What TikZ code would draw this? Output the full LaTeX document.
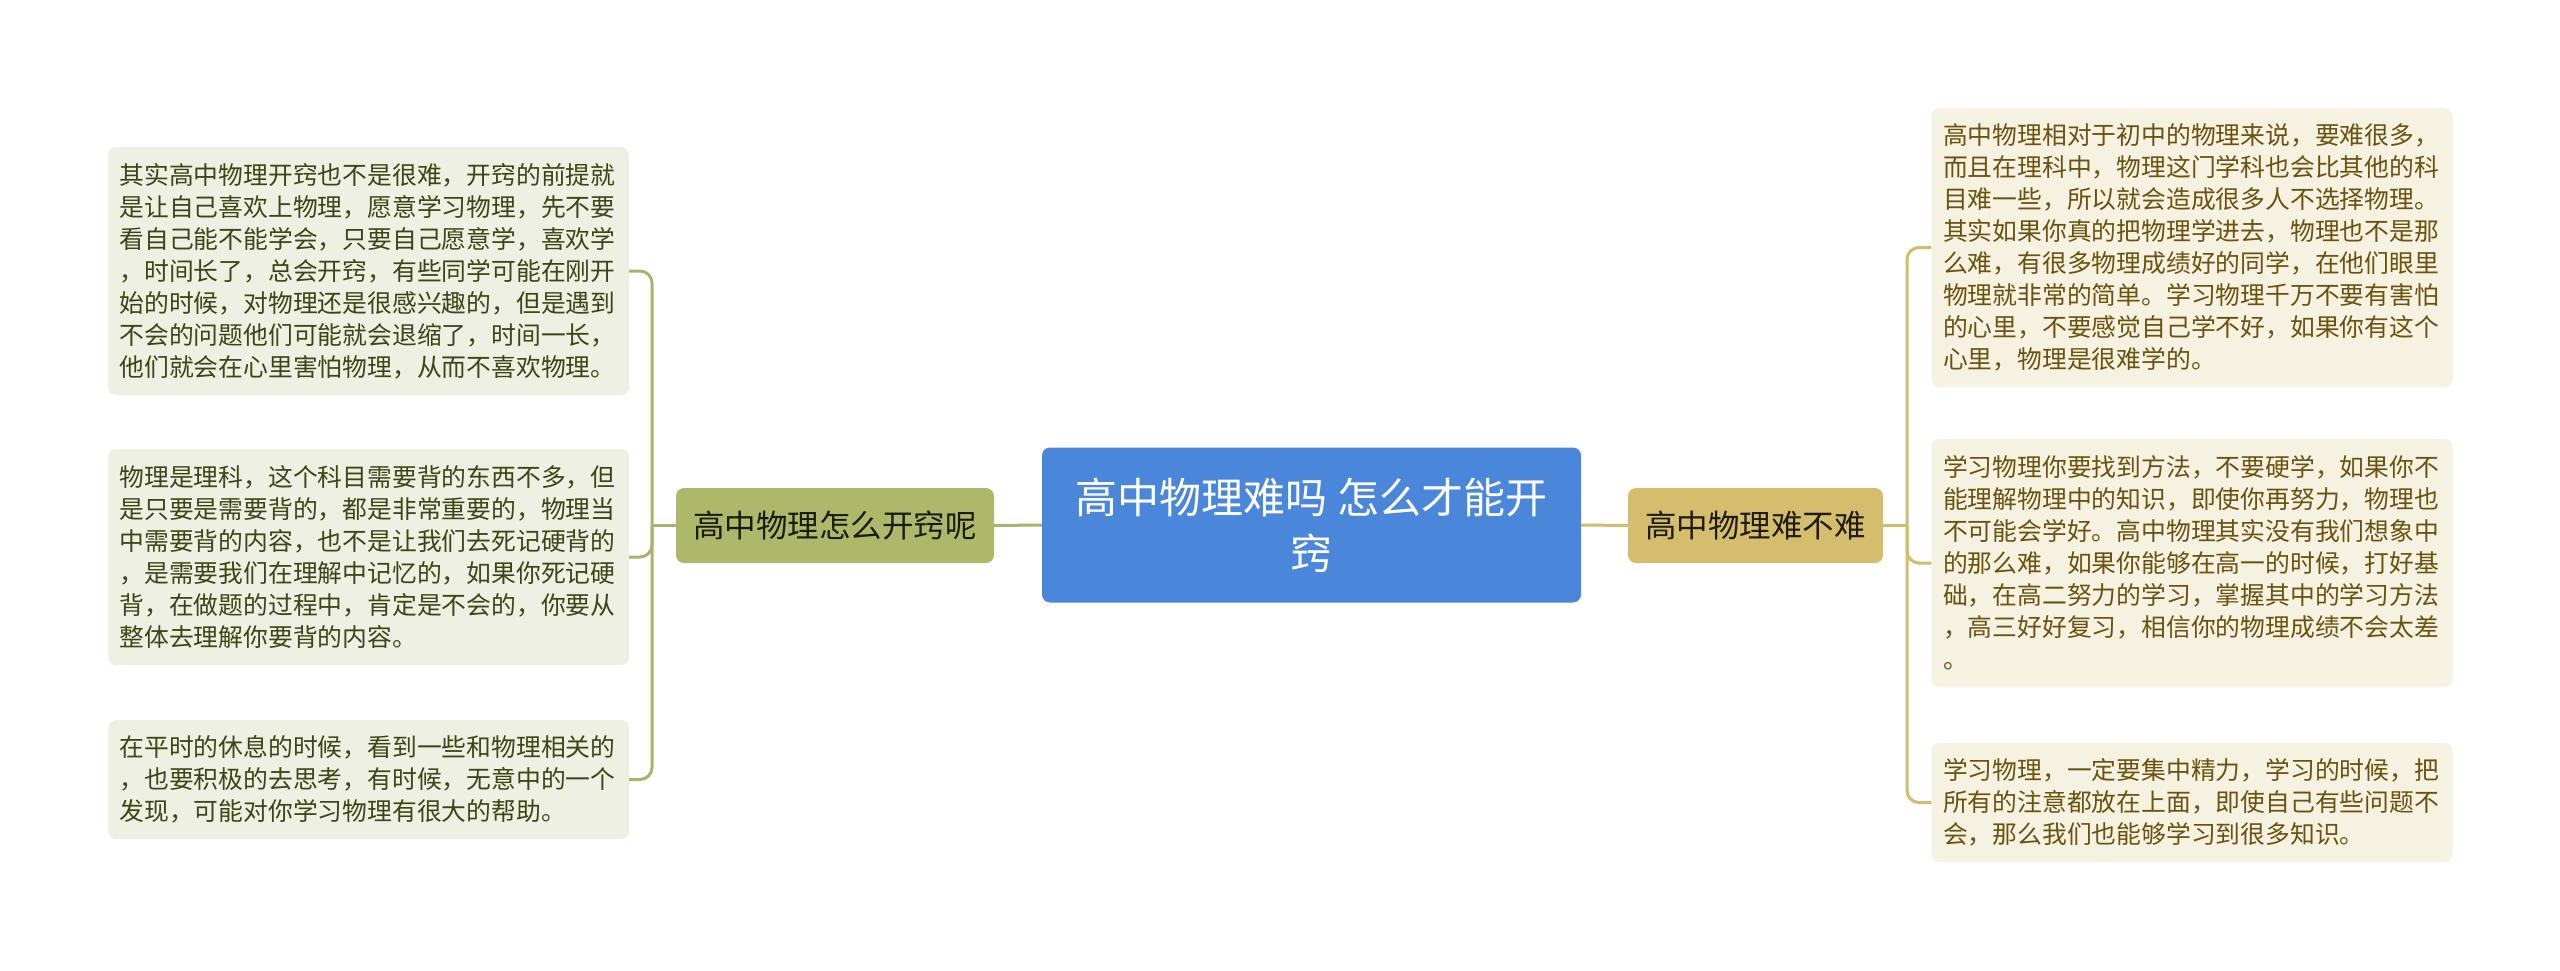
\documentclass[tikz,border=0pt]{standalone}
\usepackage{fontspec}
\setmainfont{Noto Sans CJK SC}
\definecolor{cblue}{HTML}{4A86D9}
\definecolor{lbfill}{HTML}{ADB86B}
\definecolor{rbfill}{HTML}{D5BD6E}
\definecolor{llfill}{HTML}{EFF0E4}
\definecolor{rlfill}{HTML}{F5F2E2}
\definecolor{lltext}{HTML}{3C4614}
\definecolor{rltext}{HTML}{6B520E}
\definecolor{lline}{HTML}{A9B46A}
\definecolor{rline}{HTML}{D4BC6C}
\tikzset{
  central/.style={fill=cblue, rounded corners=8pt, text=white, minimum width=539pt, minimum height=155pt, align=center, font=\fontsize{42}{56}\selectfont, inner sep=0pt},
  lbranch/.style={fill=lbfill, rounded corners=8pt, text=black!85!lbfill, minimum width=318pt, minimum height=75pt, font=\fontsize{31.5}{38}\selectfont, inner sep=0pt},
  rbranch/.style={fill=rbfill, rounded corners=8pt, text=black!85!rbfill, minimum width=255pt, minimum height=75pt, font=\fontsize{31.5}{38}\selectfont, inner sep=0pt},
  leafbase/.style={rounded corners=8pt, text width=498pt, inner xsep=11.5pt, inner ysep=0pt, align=left, font=\fontsize{24.8}{32}\selectfont},
  lleaf/.style={leafbase, fill=llfill, text=lltext},
  rleaf/.style={leafbase, fill=rlfill, text=rltext},
  lconn/.style={draw=lline, line width=3pt},
  rconn/.style={draw=rline, line width=3pt},
}
\begin{document}
\begin{tikzpicture}[x=1pt, y=-1pt]
\useasboundingbox[fill=white] (0,0) rectangle (2560,971);

\node[central] (c) at (1311.5,525) {高中物理难吗 怎么才能开\\窍};
\node[lbranch] (lb) at (835,525.5) {高中物理怎么开窍呢};
\node[rbranch] (rb) at (1755.5,525.5) {高中物理难不难};

\node[lleaf, minimum height=248pt] (l1) at (368.5,271) {其实高中物理开窍也不是很难，开窍的前提就\\是让自己喜欢上物理，愿意学习物理，先不要\\看自己能不能学会，只要自己愿意学，喜欢学\\，时间长了，总会开窍，有些同学可能在刚开\\始的时候，对物理还是很感兴趣的，但是遇到\\不会的问题他们可能就会退缩了，时间一长，\\他们就会在心里害怕物理，从而不喜欢物理。};
\node[lleaf, minimum height=216pt] (l2) at (368.5,557) {物理是理科，这个科目需要背的东西不多，但\\是只要是需要背的，都是非常重要的，物理当\\中需要背的内容，也不是让我们去死记硬背的\\，是需要我们在理解中记忆的，如果你死记硬\\背，在做题的过程中，肯定是不会的，你要从\\整体去理解你要背的内容。};
\node[lleaf, minimum height=119pt] (l3) at (368.5,779.5) {在平时的休息的时候，看到一些和物理相关的\\，也要积极的去思考，有时候，无意中的一个\\发现，可能对你学习物理有很大的帮助。};

\node[rleaf, minimum height=279pt] (r1) at (2192,247.5) {高中物理相对于初中的物理来说，要难很多，\\而且在理科中，物理这门学科也会比其他的科\\目难一些，所以就会造成很多人不选择物理。\\其实如果你真的把物理学进去，物理也不是那\\么难，有很多物理成绩好的同学，在他们眼里\\物理就非常的简单。学习物理千万不要有害怕\\的心里，不要感觉自己学不好，如果你有这个\\心里，物理是很难学的。};
\node[rleaf, minimum height=248pt] (r2) at (2192,563) {学习物理你要找到方法，不要硬学，如果你不\\能理解物理中的知识，即使你再努力，物理也\\不可能会学好。高中物理其实没有我们想象中\\的那么难，如果你能够在高一的时候，打好基\\础，在高二努力的学习，掌握其中的学习方法\\，高三好好复习，相信你的物理成绩不会太差\\。};
\node[rleaf, minimum height=119pt] (r3) at (2192,802.5) {学习物理，一定要集中精力，学习的时候，把\\所有的注意都放在上面，即使自己有些问题不\\会，那么我们也能够学习到很多知识。};

\coordinate (lbx) at (652,525.5);
\coordinate (rbx) at (1907,525.5);

\draw[lconn] (c.west) -- (lb.east);
\draw[rconn] (c.east) -- (rb.west);

\draw[lconn] (lb.west) -- (lbx);
\draw[lconn, rounded corners=12pt] (lbx) |- (l1.east);
\draw[lconn, rounded corners=12pt] (lbx) |- (l2.east);
\draw[lconn, rounded corners=12pt] (lbx) |- (l3.east);

\draw[rconn] (rb.east) -- (rbx);
\draw[rconn, rounded corners=12pt] (rbx) |- (r1.west);
\draw[rconn, rounded corners=12pt] (rbx) |- (r2.west);
\draw[rconn, rounded corners=12pt] (rbx) |- (r3.west);
\end{tikzpicture}
\end{document}
